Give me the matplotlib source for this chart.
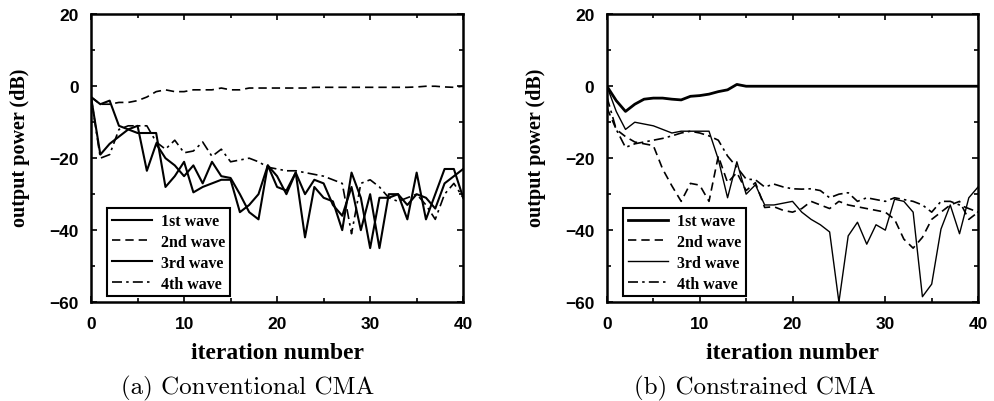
import numpy as np
import matplotlib
matplotlib.use("Agg")
import matplotlib.pyplot as plt
from matplotlib.ticker import MultipleLocator

# iteration index
it = np.arange(41)

# (a) conventional CMA, output power in dB
conv_1st = [-3, -19, -16, -14, -12, -13, -13, -13, -28, -25, -21, -29.5, -28, -27, -26, -26,
            -35, -33, -30, -22, -25, -30, -24, -42, -28, -31, -32, -40, -24, -31, -45,
            -31, -31, -30, -37, -24, -37, -30, -23, -23, -31]
conv_2nd = [-3, -5, -5, -4.5, -4.5, -4, -3, -1.5, -1, -1.5, -1.5, -1, -1, -1, -0.5, -1,
            -1, -0.5, -0.5, -0.5, -0.5, -0.5, -0.5, -0.5, -0.3, -0.3, -0.3, -0.3, -0.3,
            -0.3, -0.3, -0.3, -0.3, -0.3, -0.3, -0.2, 0, 0, -0.2, -0.3, 0]
conv_3rd = [-3, -5, -4, -11, -12, -11, -23.5, -16, -20, -22, -25, -22, -27, -21, -25, -25.5,
            -30, -35, -37, -22, -28, -29, -24, -30, -26, -27, -33, -36, -28, -40, -30,
            -45, -30, -30, -33, -30, -31, -34, -27, -25, -23]
conv_4th = [-3, -20, -19, -12, -11, -11, -11, -15.5, -17.5, -15, -18.5, -18, -15.5, -19.5,
            -17.5, -21, -20.5, -20, -21, -22.5, -23, -23.5, -23.5, -24, -24.5, -25, -26,
            -27, -41, -27, -26, -28, -31, -32, -31, -30, -33, -37, -30, -27, -31]

# (b) constrained CMA
cons_1st = [0, -4, -7, -5, -3.6, -3.3, -3.3, -3.6, -3.8, -2.8, -2.6, -2.2, -1.5, -1, 0.5, 0,
            0, 0, 0, 0, 0, 0, 0, 0, 0, 0, 0, 0, 0, 0, 0, 0, 0, 0, 0, 0, 0, 0, 0, 0, 0]
cons_2nd = [-6, -12, -14, -15.5, -16, -16.5, -23, -27.7, -32, -27, -27.5, -32, -19.4, -26.8,
            -24, -29, -26.8, -33.7, -33.5, -34.5, -35, -34, -32, -33, -34, -32, -33, -33.5,
            -34, -34.5, -35, -37, -42.5, -45, -42, -37, -35, -33, -32, -37, -35]
cons_3rd = [0, -7, -12, -10, -10.5, -11, -12, -13, -12.5, -12.5, -12.5, -12.5, -20.3, -31,
            -21, -30, -27.4, -33, -33, -32.5, -32, -35, -37, -38.5, -40.5, -60, -41.6, -37.8,
            -43.9, -38.5, -40, -31.4, -32, -35, -58.5, -55, -39.7, -33, -41, -31, -28]
cons_4th = [-3, -12, -17, -16, -15.5, -15, -14.5, -13.8, -13, -12.5, -13, -13.8, -15, -19.4,
            -22.5, -25.8, -26, -28, -27.2, -28, -28.5, -28.6, -28.5, -29, -31, -30, -29.6,
            -32, -31, -31.5, -32, -31, -31.5, -32, -33, -35, -32, -32, -33, -34, -35]

labels = ["1st wave", "2nd wave", "3rd wave", "4th wave"]

serif_b = {"family": "Liberation Serif", "weight": "bold"}

fig = plt.figure(figsize=(9.95, 4.02), dpi=100)
ax1 = fig.add_axes([0.0915, 0.246, 0.374, 0.716])
ax2 = fig.add_axes([0.610, 0.246, 0.373, 0.716])


def draw(ax, w1, w2, w3, w4, lw1, lw3, caption, cap_x):
    ax.plot(it, w1, color="black", lw=lw1, label=labels[0])
    ax.plot(it, w2, color="black", lw=1.2, dashes=(5, 3), label=labels[1])
    ax.plot(it, w3, color="black", lw=lw3, label=labels[2])
    ax.plot(it, w4, color="black", lw=1.2, dashes=(6, 2.5, 1.5, 2.5), label=labels[3])
    ax.set_xlim(0, 40)
    ax.set_ylim(-60, 20)
    ax.xaxis.set_major_locator(MultipleLocator(10))
    ax.xaxis.set_minor_locator(MultipleLocator(5))
    ax.yaxis.set_major_locator(MultipleLocator(20))
    ax.yaxis.set_minor_locator(MultipleLocator(10))
    ax.tick_params(which="both", direction="in", top=True, right=True, width=1.2)
    ax.tick_params(which="major", length=4, pad=10)
    ax.tick_params(axis="y", which="major", pad=9)
    ax.tick_params(which="minor", length=3)
    for sp in ax.spines.values():
        sp.set_linewidth(1.8)
    for t in ax.get_xticklabels() + ax.get_yticklabels():
        t.set_fontfamily("Liberation Sans")
        t.set_fontweight("bold")
        t.set_fontsize(12.5)
    ax.set_xlabel("iteration number", fontdict=serif_b, fontsize=17, labelpad=8)
    ax.set_ylabel("output power (dB)", fontdict=serif_b, fontsize=14.5)
    ax.yaxis.set_label_coords(-0.164, 0.54)
    leg = ax.legend(loc="lower left", bbox_to_anchor=(0.043, 0.02), frameon=True,
                    fancybox=False, edgecolor="black", framealpha=1,
                    prop={"family": "Liberation Serif", "weight": "bold", "size": 11.5},
                    handlelength=2.5, labelspacing=0.3, borderpad=0.3,
                    handletextpad=0.6, borderaxespad=0)
    leg.get_frame().set_linewidth(1.5)
    fig.text(cap_x, 0.034, caption, ha="center", va="center",
             family="cmr10", fontsize=18)


draw(ax1, conv_1st, conv_2nd, conv_3rd, conv_4th, 1.5, 1.5, "(a) Conventional CMA", 0.249)
draw(ax2, cons_1st, cons_2nd, cons_3rd, cons_4th, 2.0, 1.0, "(b) Constrained CMA", 0.759)

fig.savefig("out.png", dpi=100)
